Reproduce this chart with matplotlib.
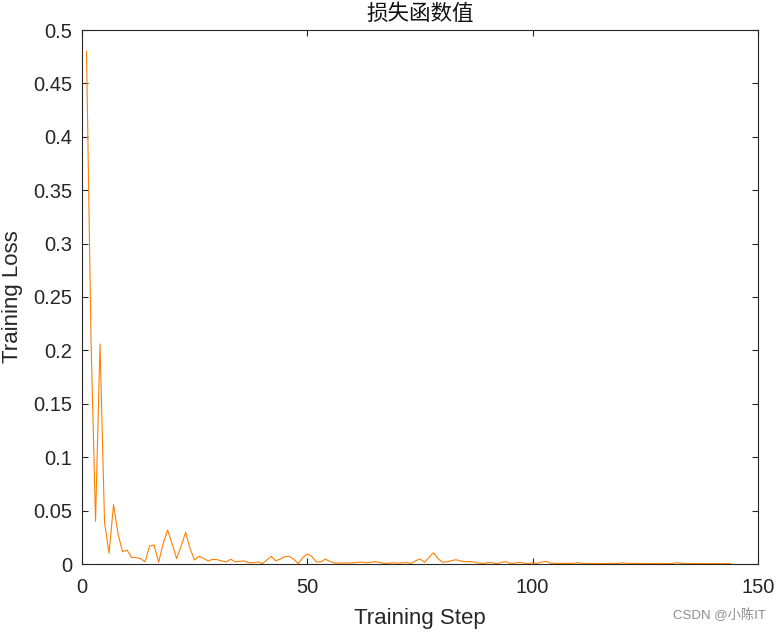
import numpy as np
import matplotlib.pyplot as plt
from matplotlib.ticker import FuncFormatter

# 训练损失, step 1..144
loss_head = [
    0.480, 0.210, 0.040, 0.206, 0.039, 0.010, 0.0556, 0.028, 0.0115, 0.013,
    0.0062, 0.006, 0.005, 0.002, 0.0169, 0.0178, 0.0016, 0.019, 0.0318, 0.0187,
    0.005, 0.0169, 0.0297, 0.014, 0.0037, 0.0072, 0.0053, 0.0028, 0.0044, 0.004,
    0.0028, 0.002, 0.0044, 0.002, 0.0025, 0.0028, 0.0012, 0.0012, 0.0019, 0.0003,
    0.0037, 0.0072, 0.003, 0.0047, 0.0069, 0.0072, 0.0044, 0.0003, 0.0062, 0.0094,
    0.0069, 0.0019, 0.002, 0.0045, 0.0025,
]
loss_mid = [
    0.001, 0.0008, 0.001, 0.0009, 0.001, 0.0015, 0.0018, 0.0012, 0.0015, 0.0022,
    0.0015, 0.0005, 0.0007, 0.0012, 0.0008, 0.001, 0.0014, 0.0004, 0.003, 0.0047,
    0.0016, 0.006, 0.0106, 0.005, 0.0016, 0.002, 0.0032, 0.004, 0.0028, 0.0022,
    0.0023, 0.0018, 0.0008, 0.0006, 0.0012, 0.0013, 0.0003, 0.0014, 0.0022, 0.0006,
    0.0008, 0.0016, 0.0009, 0.0002, 0.0012, 0.0006, 0.0018, 0.0025, 0.0007, 0.0006,
    0.0005, 0.0006,
]
loss_tail = [
    0.0005, 0.0007, 0.0012, 0.0006, 0.0004, 0.0005, 0.0006, 0.0004, 0.0005, 0.0006,
    0.0005, 0.0004, 0.0011, 0.0006, 0.0004, 0.0005, 0.0006, 0.0005, 0.0004, 0.0005,
    0.0006, 0.0005, 0.0004, 0.0005, 0.0012, 0.0006, 0.0004, 0.0005, 0.0004, 0.0005,
    0.0003, 0.0004, 0.0005, 0.0004, 0.0003, 0.0004, 0.0003,
]
loss = loss_head + loss_mid + loss_tail
steps = list(range(1, len(loss) + 1))

x_ticks = [0, 50, 100, 150]
y_ticks = [0, 0.05, 0.1, 0.15, 0.2, 0.25, 0.3, 0.35, 0.4, 0.45, 0.5]

plt.rcParams['font.family'] = ['Liberation Sans', 'Noto Sans CJK SC', 'DejaVu Sans']
axcol = '#262626'

fig = plt.figure(figsize=(7.78, 6.32), dpi=100)
ax = fig.add_axes([82 / 778, 1 - 564 / 632, 676 / 778, 534 / 632])

ax.plot(steps, loss, color='#FF8000', linewidth=0.8)

ax.set_xlim(0, 150)
ax.set_ylim(0, 0.5)
ax.set_xticks(x_ticks)
ax.set_yticks(y_ticks)
ax.yaxis.set_major_formatter(FuncFormatter(lambda v, p: '%g' % round(v, 4)))

for s in ax.spines.values():
    s.set_color(axcol)
    s.set_linewidth(0.8)
ax.tick_params(direction='in', top=True, right=True, length=4.5, width=0.8,
               color=axcol, labelcolor=axcol, labelsize=14.5)
ax.tick_params(axis='x', pad=10)
ax.tick_params(axis='y', pad=7)

ax.set_xlabel('Training Step', fontsize=16, color=axcol, labelpad=8)
ax.set_ylabel('Training Loss', fontsize=16, color=axcol, labelpad=7)
ax.set_title('损失函数值', fontsize=15.5, family=['Noto Sans CJK SC'],
             fontweight='light', color='#111111', pad=7)

fig.text(0.985, 0.027, 'CSDN @小陈IT', ha='right', va='center', fontsize=9.5,
         color='#8c8c8c', family=['Liberation Sans', 'Noto Sans CJK SC'])

fig.savefig('out.png', dpi=100)
